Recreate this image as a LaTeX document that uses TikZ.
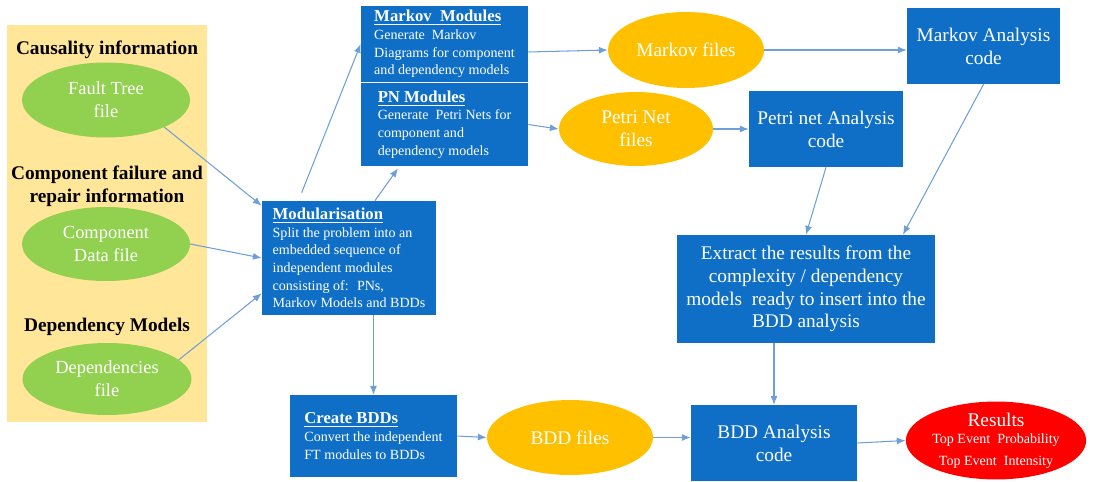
\documentclass[tikz,border=0pt]{standalone}
\usepackage{fontspec}
\setmainfont{Liberation Serif}
\usetikzlibrary{arrows.meta, calc, shapes.geometric}
\definecolor{boxBlue}{HTML}{0F6FC6}
\definecolor{fileOrange}{HTML}{FFC000}
\definecolor{inGreen}{HTML}{92D050}
\definecolor{resRed}{HTML}{FF0000}
\definecolor{panelYellow}{HTML}{FFE699}
\definecolor{linkBlue}{HTML}{6F9FD8}
\newcommand{\modtitle}[1]{{\fontsize{9.5}{12}\selectfont\bfseries\underline{#1}}}

\begin{document}
\begin{tikzpicture}[x=0.02cm, y=-0.02cm,
    blk/.style={rectangle, fill=boxBlue, text=white, inner sep=2pt},
    modblk/.style={blk, align=left, font=\fontsize{8}{10}\selectfont},
    codeblk/.style={blk, align=center, font=\fontsize{11}{13}\selectfont},
    infile/.style={ellipse, fill=inGreen, text=white, align=center, inner sep=0pt, font=\fontsize{10.5}{13}\selectfont},
    outfile/.style={ellipse, fill=fileOrange, text=white, align=center, inner sep=0pt, font=\fontsize{11}{13}\selectfont},
    grouplbl/.style={align=center, font=\fontsize{11}{13}\selectfont\bfseries},
    link/.style={draw=linkBlue, semithick, -{Latex[length=5pt,width=4pt]}}]
    \useasboundingbox (0,0) rectangle (1107,481);

    % input panel
    \fill[panelYellow] (7,25) rectangle (207,422);
    \node[grouplbl] (causal) at (107,50) {Causality information};
    \node[grouplbl] (compinfo) at (107,186) {Component failure and\\repair information};
    \node[grouplbl] (depinfo) at (107,327) {Dependency Models};

    \node[infile, minimum width=3.36cm, minimum height=1.5cm] (ft) at (106,100) {Fault Tree\\file};
    \node[infile, minimum width=3.36cm, minimum height=1.48cm] (cd) at (106,244) {Component\\Data file};
    \node[infile, minimum width=3.38cm, minimum height=1.44cm] (dep) at (107,379) {Dependencies\\file};

    % modules
    \node[modblk, minimum width=3.48cm, minimum height=2.28cm] (mod) at (349,258)
        {\modtitle{Modularisation}\\Split the problem into an\\embedded sequence of\\independent modules\\consisting of:~ PNs,\\Markov Models and BDDs};
    \node[modblk, minimum width=3.34cm, minimum height=1.52cm] (mkmod) at (444.5,44)
        {\modtitle{Markov~ Modules}\\Generate~ Markov\\Diagrams for component\\and dependency models};
    \node[modblk, minimum width=3.34cm, minimum height=1.66cm] (pn) at (444.5,124.5)
        {\modtitle{PN Modules}\\Generate~ Petri Nets for\\component and\\dependency models\phantom{p}};
    \node[modblk, minimum width=3.34cm, minimum height=1.64cm] (create) at (373.5,436)
        {\modtitle{Create BDDs}\\Convert the independent\\FT modules to BDDs};

    % files and analysis codes
    \node[outfile, minimum width=3.12cm, minimum height=1.52cm] (mkf) at (686,50) {Markov files};
    \node[outfile, minimum width=3.08cm, minimum height=1.48cm] (pnf) at (636,129) {Petri Net\\files};
    \node[outfile, minimum width=3.32cm, minimum height=1.5cm] (bddf) at (570,437.5) {BDD files};
    \node[codeblk, minimum width=3.06cm, minimum height=1.52cm] (mkcode) at (983.5,46) {Markov Analysis\\code};
    \node[codeblk, minimum width=3.08cm, minimum height=1.52cm] (pncode) at (826,129) {Petri net Analysis\\code};
    \node[codeblk, minimum width=5.16cm, minimum height=2.16cm] (extract) at (806,289)
        {Extract the results from the\\complexity / dependency\\models~ ready to insert into the\\BDD analysis};
    \node[codeblk, minimum width=3.32cm, minimum height=1.52cm] (bddcode) at (774,443) {BDD Analysis\\code};
    \node[ellipse, fill=resRed, text=white, align=center, inner sep=0pt, minimum width=2.84cm, minimum height=1.5cm] (res) at (996,440.5)
        {{\fontsize{11}{12}\selectfont Results}\\[-2pt]{\fontsize{8}{9}\selectfont Top Event~ Probability}\\{\fontsize{8}{9}\selectfont Top Event~ Intensity}};

    % connectors
    \draw[link] (ft.-25) -- ([yshift=-0.1cm]mod.north west);
    \draw[link] (cd.east) -- (mod.west);
    \draw[link] (dep.15) -- ([yshift=0.44cm]mod.south west);
    \draw[link] ([xshift=0.8cm, yshift=0.16cm]mod.north west) -- (mkmod.west);
    \draw[link] ([xshift=0.52cm]mod.north) -- ([xshift=-0.93cm, yshift=-0.04cm]pn.south);
    \draw[link] (create.north |- mod.south) -- (create.north);
    \draw[link] ([yshift=-0.16cm]mkmod.east) -- (mkf.west);
    \draw[link] (pn.east) -- (pnf.west);
    \draw[link] (mkf.east) -- (mkf.east -| mkcode.west);
    \draw[link] (pnf.east) -- (pncode.west);
    \draw[link] (pncode.south) -- (extract.north);
    \draw[link] (mkcode.south) -- ([xshift=1.94cm]extract.north);
    \draw[link] (bddcode.north |- extract.south) -- (bddcode.north);
    \draw[link] (create.east) -- (bddf.west);
    \draw[link] (bddf.east) -- (bddf.east -| bddcode.west);
    \draw[link] (bddcode.east) -- (res.west);
\end{tikzpicture}
\end{document}
